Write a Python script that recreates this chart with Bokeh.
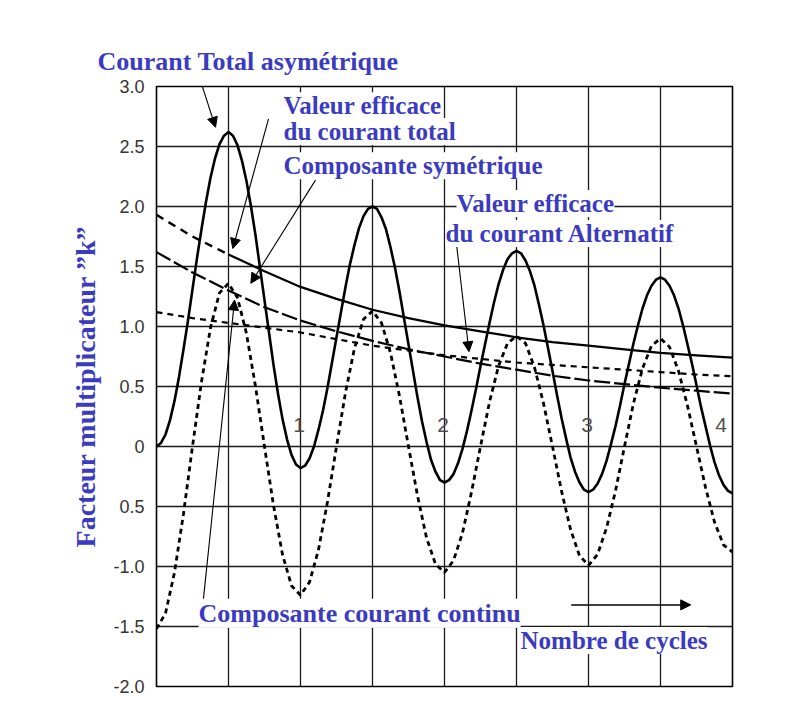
from bokeh.plotting import figure
from bokeh.models import Range1d, FixedTicker, Label, Arrow, NormalHead, ColumnDataSource
from bokeh.core.properties import value
from bokeh.embed import file_html
from bokeh.resources import INLINE

# ---------------- data ----------------
# sampling positions (cycles) for the total current
cycles_total = [k / 32 for k in range(129)]
# sampling positions (cycles) for the symmetric component
cycles_sym = [k / 16 for k in range(65)]
# sampling positions (cycles) for the envelope curves
cycles_coarse = [k / 4 for k in range(17)]

# Courant total asymétrique (solid)
total_current = [
    0.00, 0.03, 0.10, 0.22, 0.38, 0.58, 0.81, 1.05, 1.31, 1.57, 1.81, 2.04, 2.24, 2.40, 2.52, 2.59, 2.62,
    2.59, 2.51, 2.38, 2.21, 2.00, 1.76, 1.49, 1.22, 0.95, 0.68, 0.44, 0.23, 0.06, -0.07, -0.15, -0.18,
    -0.16, -0.10, 0.00, 0.14, 0.30, 0.49, 0.70, 0.91, 1.12, 1.33, 1.52, 1.68, 1.82, 1.92, 1.98, 2.00,
    1.98, 1.91, 1.81, 1.66, 1.49, 1.29, 1.07, 0.85, 0.63, 0.41, 0.21, 0.04, -0.11, -0.21, -0.28, -0.30,
    -0.28, -0.23, -0.14, -0.02, 0.13, 0.30, 0.48, 0.67, 0.85, 1.03, 1.20, 1.35, 1.47, 1.56, 1.61, 1.63,
    1.61, 1.55, 1.46, 1.34, 1.18, 1.01, 0.82, 0.63, 0.43, 0.24, 0.07, -0.09, -0.21, -0.30, -0.36, -0.38,
    -0.36, -0.31, -0.23, -0.12, 0.02, 0.17, 0.34, 0.52, 0.69, 0.86, 1.01, 1.15, 1.26, 1.34, 1.39, 1.41,
    1.39, 1.34, 1.26, 1.15, 1.01, 0.85, 0.69, 0.51, 0.33, 0.17, 0.01, -0.13, -0.24, -0.32, -0.37, -0.39,
]
# Composante symétrique (dotted)
symmetric = [
    -1.52, -1.39, -1.05, -0.56, 0.00, 0.54, 0.99, 1.28, 1.36,
    1.24, 0.94, 0.50, 0.00, -0.49, -0.90, -1.16, -1.24,
    -1.13, -0.86, -0.46, 0.00, 0.45, 0.82, 1.06, 1.13,
    1.03, 0.78, 0.42, 0.00, -0.41, -0.76, -0.98, -1.05,
    -0.95, -0.72, -0.38, 0.00, 0.37, 0.67, 0.86, 0.92,
    0.86, 0.66, 0.36, 0.00, -0.37, -0.69, -0.91, -0.99,
    -0.90, -0.68, -0.37, 0.00, 0.36, 0.65, 0.84, 0.90,
    0.83, 0.63, 0.34, 0.00, -0.34, -0.63, -0.82, -0.88,
]
# Composante courant continu (long dashes)
dc_component = [1.62, 1.45, 1.30, 1.16, 1.05, 0.96, 0.88, 0.81, 0.75,
                0.69, 0.64, 0.59, 0.55, 0.52, 0.49, 0.465, 0.44]
# Valeur efficace du courant alternatif (short dashes)
rms_ac = [1.12, 1.07, 1.03, 0.99, 0.95, 0.895, 0.84, 0.80, 0.76,
          0.73, 0.70, 0.68, 0.66, 0.64, 0.62, 0.60, 0.585]
# Valeur efficace du courant total (dashed start, then solid)
rms_total = [1.93, 1.75, 1.60, 1.46, 1.33, 1.23, 1.14, 1.07, 1.01,
             0.96, 0.91, 0.87, 0.84, 0.81, 0.78, 0.76, 0.74]
rms_total_dash_end = 2  # index where the curve becomes solid

# y axis ticks and their printed labels (as in the original)
y_ticks = [3, 2.5, 2, 1.5, 1, 0.5, 0, -0.5, -1, -1.5, -2]
y_tick_labels = ["3.0", "2.5", "2.0", "1.5", "1.0", "0.5", "0", "0.5", "-1.0", "-1.5", "-2.0"]
x_grid = [0.5, 1, 1.5, 2, 2.5, 3, 3.5]
y_grid = [2.5, 2, 1.5, 1, 0.5, 0, -0.5, -1, -1.5]

# cycle numbers printed inside the grid
cycle_numbers = ["1", "2", "3", "4"]
cycle_number_x = [0.99, 1.99, 2.99, 3.92]
cycle_number_y = [0.18, 0.18, 0.18, 0.18]

BLUE = "#3b3bbf"

p = figure(frame_width=576, frame_height=600,
           x_range=Range1d(0, 4), y_range=Range1d(-2, 3),
           output_backend="svg", toolbar_location=None,
           min_border_left=156, min_border_top=86,
           min_border_right=40, min_border_bottom=18)
p.background_fill_color = "white"
p.border_fill_color = "white"
p.outline_line_color = "black"
p.outline_line_width = 1.6

p.title.text = "Courant Total asymétrique"
p.title.align = "left"
p.title.offset = -59
p.title.standoff = 22
p.title.text_font = "Liberation Serif"
p.title.text_font_style = "bold"
p.title.text_font_size = "26px"
p.title.text_color = BLUE

p.xaxis.visible = False
p.xgrid.ticker = FixedTicker(ticks=x_grid)
p.ygrid.ticker = FixedTicker(ticks=y_grid)
for g in (p.xgrid, p.ygrid):
    g.grid_line_color = "black"
    g.grid_line_width = 1.3
    g.grid_line_alpha = 0.9

yax = p.yaxis[0]
yax.ticker = FixedTicker(ticks=y_ticks)
yax.major_label_overrides = {(int(v) if v == int(v) else v): s for v, s in zip(y_ticks, y_tick_labels)}
yax.axis_line_color = None
yax.major_tick_line_color = None
yax.minor_tick_line_color = None
yax.major_label_standoff = 6
yax.major_label_text_font = "Liberation Sans"
yax.major_label_text_font_size = "18px"
yax.major_label_text_color = "#333333"
yax.axis_label = "Facteur multiplicateur ”k”"
yax.axis_label_text_font = "Liberation Serif"
yax.axis_label_text_font_style = "bold"
yax.axis_label_text_font_size = "28px"
yax.axis_label_text_color = BLUE
yax.axis_label_standoff = 9

# curves
p.line(cycles_total, total_current, line_color="black", line_width=2.6, line_join="round")
p.line(cycles_sym, symmetric, line_color="black", line_width=2.8, line_dash="5 4")
p.line(cycles_coarse, dc_component, line_color="black", line_width=2.2, line_dash="16 4")
p.line(cycles_coarse, rms_ac, line_color="black", line_width=2.2, line_dash="6 5")
p.line(cycles_coarse[:rms_total_dash_end + 1], rms_total[:rms_total_dash_end + 1],
       line_color="black", line_width=2.4, line_dash="8 6")
p.line(cycles_coarse[rms_total_dash_end:], rms_total[rms_total_dash_end:],
       line_color="black", line_width=2.2)

src = ColumnDataSource(dict(x=cycle_number_x, y=cycle_number_y, t=cycle_numbers))
p.text(x="x", y="y", text="t", source=src, text_font=value("Liberation Sans"),
       text_font_size="21px", text_color="#505050", text_align="center", text_baseline="middle")

# arrows (start x, start y, end x, end y)
arrows = [
    (0.278, 3.15, 0.41, 2.66),
    (0.778, 2.73, 0.53, 1.65),
    (1.104, 2.22, 0.655, 1.36),
    (0.326, -1.27, 0.542, 1.22),
    (2.08, 1.72, 2.17, 0.79),
]
for xs, ys, xe, ye in arrows:
    p.add_layout(Arrow(end=NormalHead(size=10, fill_color="black", line_color="black"),
                       x_start=xs, y_start=ys, x_end=xe, y_end=ye,
                       line_color="black", line_width=1.1))
p.add_layout(Arrow(end=NormalHead(size=10, fill_color="black", line_color="black"),
                   x_start=2.88, y_start=-1.32, x_end=3.71, y_end=-1.32,
                   line_color="black", line_width=1.5))

# blue annotation texts (text, x, y, size)
annotations = [
    ("Valeur efficace", 0.882, 2.84, "25px"),
    ("du courant total", 0.882, 2.625, "25px"),
    ("Composante symétrique", 0.882, 2.34, "25px"),
    ("Valeur efficace", 2.083, 2.025, "25px"),
    ("du courant Alternatif", 2.007, 1.775, "25px"),
    ("Composante courant continu", 0.292, -1.39, "26px"),
    ("Nombre de cycles", 2.528, -1.617, "25px"),
]
for txt, x, y, fs in annotations:
    p.add_layout(Label(x=x, y=y, text=txt, text_font="Liberation Serif", text_font_style="bold",
                       text_font_size=fs, text_color=BLUE, text_align="left", text_baseline="middle",
                       background_fill_color="white"))

open("out.html", "w").write(file_html(p, INLINE))
